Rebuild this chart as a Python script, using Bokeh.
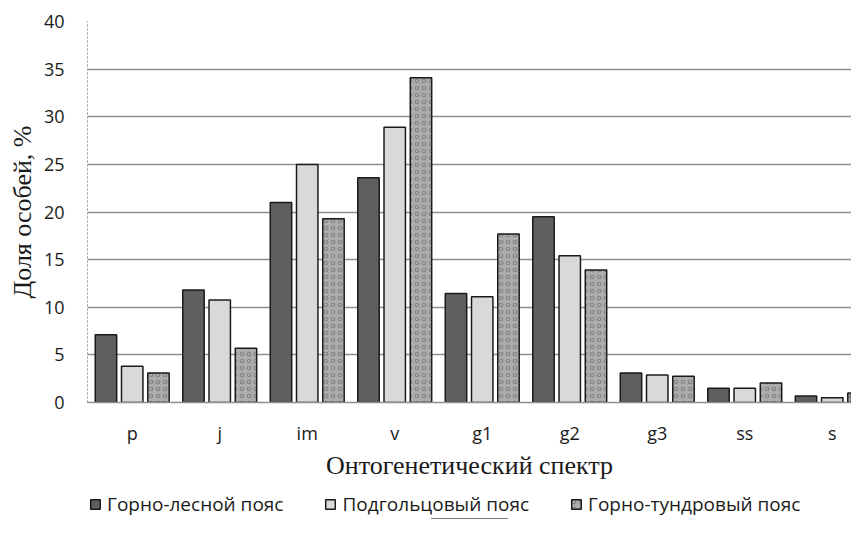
from bokeh.plotting import figure
from bokeh.models import ColumnDataSource, Range1d, FixedTicker, Legend, LegendItem
from bokeh.layouts import column
from bokeh.transform import dodge
from bokeh.embed import file_html
from bokeh.resources import INLINE

categories = ["p", "j", "im", "v", "g1", "g2", "g3", "ss", "s"]
forest = [7.1, 11.8, 21.0, 23.6, 11.45, 19.5, 3.1, 1.5, 0.67]
subalpine = [3.8, 10.75, 25.0, 28.9, 11.1, 15.4, 2.9, 1.5, 0.5]
tundra = [3.1, 5.7, 19.3, 34.1, 17.7, 13.9, 2.75, 2.05, 1.0]
series_names = ["Горно-лесной пояс", "Подгольцовый пояс", "Горно-тундровый пояс"]
y_ticks = [0, 5, 10, 15, 20, 25, 30, 35, 40]
x_title = "Онтогенетический спектр"
y_title = "Доля особей, %"

fills = ["#5f5f5f", "#d9d9d9", "#acacac"]
hatch = dict(hatch_pattern="ring", hatch_color="#6a6a6a", hatch_scale=7, hatch_weight=1.2, hatch_alpha=0.6)

pos = [i + 0.5 for i in range(len(categories))]
src = ColumnDataSource(dict(pos=pos, forest=forest, subalpine=subalpine, tundra=tundra))

p = figure(width=851, height=489,
           x_range=Range1d(-0.011, 8.72), y_range=Range1d(0, 40),
           output_backend="svg", toolbar_location=None,
           min_border_left=87, min_border_right=0, min_border_top=21, min_border_bottom=87)
p.outline_line_color = None
p.background_fill_color = "white"

bw = 0.245
p.vbar(x=dodge("pos", -0.30, range=p.x_range), top="forest", width=bw, source=src,
       fill_color=fills[0], line_color="#1a1a1a", line_width=1.5)
p.vbar(x=dodge("pos", 0.0, range=p.x_range), top="subalpine", width=bw, source=src,
       fill_color=fills[1], line_color="#1a1a1a", line_width=1.5)
p.vbar(x=dodge("pos", 0.30, range=p.x_range), top="tundra", width=bw, source=src,
       fill_color=fills[2], line_color="#1a1a1a", line_width=1.5, **hatch)

# x axis
p.xaxis.ticker = FixedTicker(ticks=pos)
p.xaxis.major_label_overrides = {pp: c for pp, c in zip(pos, categories)}
p.xaxis.major_tick_line_color = None
p.xaxis.major_tick_out = 0
p.xaxis.major_tick_in = 0
p.xaxis.minor_tick_line_color = None
p.xaxis.axis_line_color = "#8f8f8f"
p.xaxis.axis_line_width = 1.5
p.xaxis.major_label_text_font = "Open Sans"
p.xaxis.major_label_text_font_size = "18px"
p.xaxis.major_label_text_color = "#1a1a1a"
p.xaxis.major_label_standoff = 18
p.xaxis.axis_label = x_title
p.xaxis.axis_label_text_font = "Liberation Serif"
p.xaxis.axis_label_text_font_style = "normal"
p.xaxis.axis_label_text_font_size = "26px"
p.xaxis.axis_label_text_color = "#1a1a1a"
p.xaxis.axis_label_standoff = 3

# y axis
p.yaxis.ticker = FixedTicker(ticks=y_ticks)
p.yaxis.major_tick_line_color = None
p.yaxis.major_tick_out = 0
p.yaxis.major_tick_in = 0
p.yaxis.minor_tick_line_color = None
p.yaxis.axis_line_color = "#8f8f8f"
p.yaxis.axis_line_dash = "2 2"
p.yaxis.axis_line_width = 1
p.yaxis.major_label_text_font = "Open Sans"
p.yaxis.major_label_text_font_size = "18px"
p.yaxis.major_label_text_color = "#1a1a1a"
p.yaxis.major_label_standoff = 23
p.yaxis.axis_label = y_title
p.yaxis.axis_label_text_font = "Liberation Serif"
p.yaxis.axis_label_text_font_style = "normal"
p.yaxis.axis_label_text_font_size = "26px"
p.yaxis.axis_label_text_color = "#1a1a1a"
p.yaxis.axis_label_standoff = 4

p.xgrid.grid_line_color = None
p.ygrid.ticker = FixedTicker(ticks=y_ticks)
p.ygrid.grid_line_color = "#8f8f8f"
p.ygrid.grid_line_width = 1.3

# legend strip below the chart; its renderers use the same data but lie outside its view
leg = figure(width=851, height=30, x_range=Range1d(0, 1), y_range=Range1d(100, 101),
             x_axis_type=None, y_axis_type=None,
             output_backend="svg", toolbar_location=None,
             min_border_left=87, min_border_right=0, min_border_top=0, min_border_bottom=0)
leg.outline_line_color = None
leg.xgrid.visible = False
leg.ygrid.visible = False
l1 = leg.vbar(x="pos", top="forest", width=0.1, source=src,
              fill_color=fills[0], line_color="#1a1a1a", line_width=1.5)
l2 = leg.vbar(x="pos", top="subalpine", width=0.1, source=src,
              fill_color=fills[1], line_color="#1a1a1a", line_width=1.5)
l3 = leg.vbar(x="pos", top="tundra", width=0.1, source=src,
              fill_color=fills[2], line_color="#1a1a1a", line_width=1.5, **hatch)

legend = Legend(items=[LegendItem(label=series_names[0], renderers=[l1]),
                       LegendItem(label=series_names[1], renderers=[l2]),
                       LegendItem(label=series_names[2], renderers=[l3])],
                location="left", orientation="horizontal",
                padding=0, margin=2, spacing=41, label_standoff=6,
                glyph_width=12, glyph_height=12,
                label_text_font="Open Sans", label_text_font_size="19px",
                label_text_color="#1a1a1a", border_line_color=None,
                background_fill_alpha=0)
leg.add_layout(legend, "center")

page = column(p, leg, spacing=0)
open("out.html", "w").write(file_html(page, INLINE))
